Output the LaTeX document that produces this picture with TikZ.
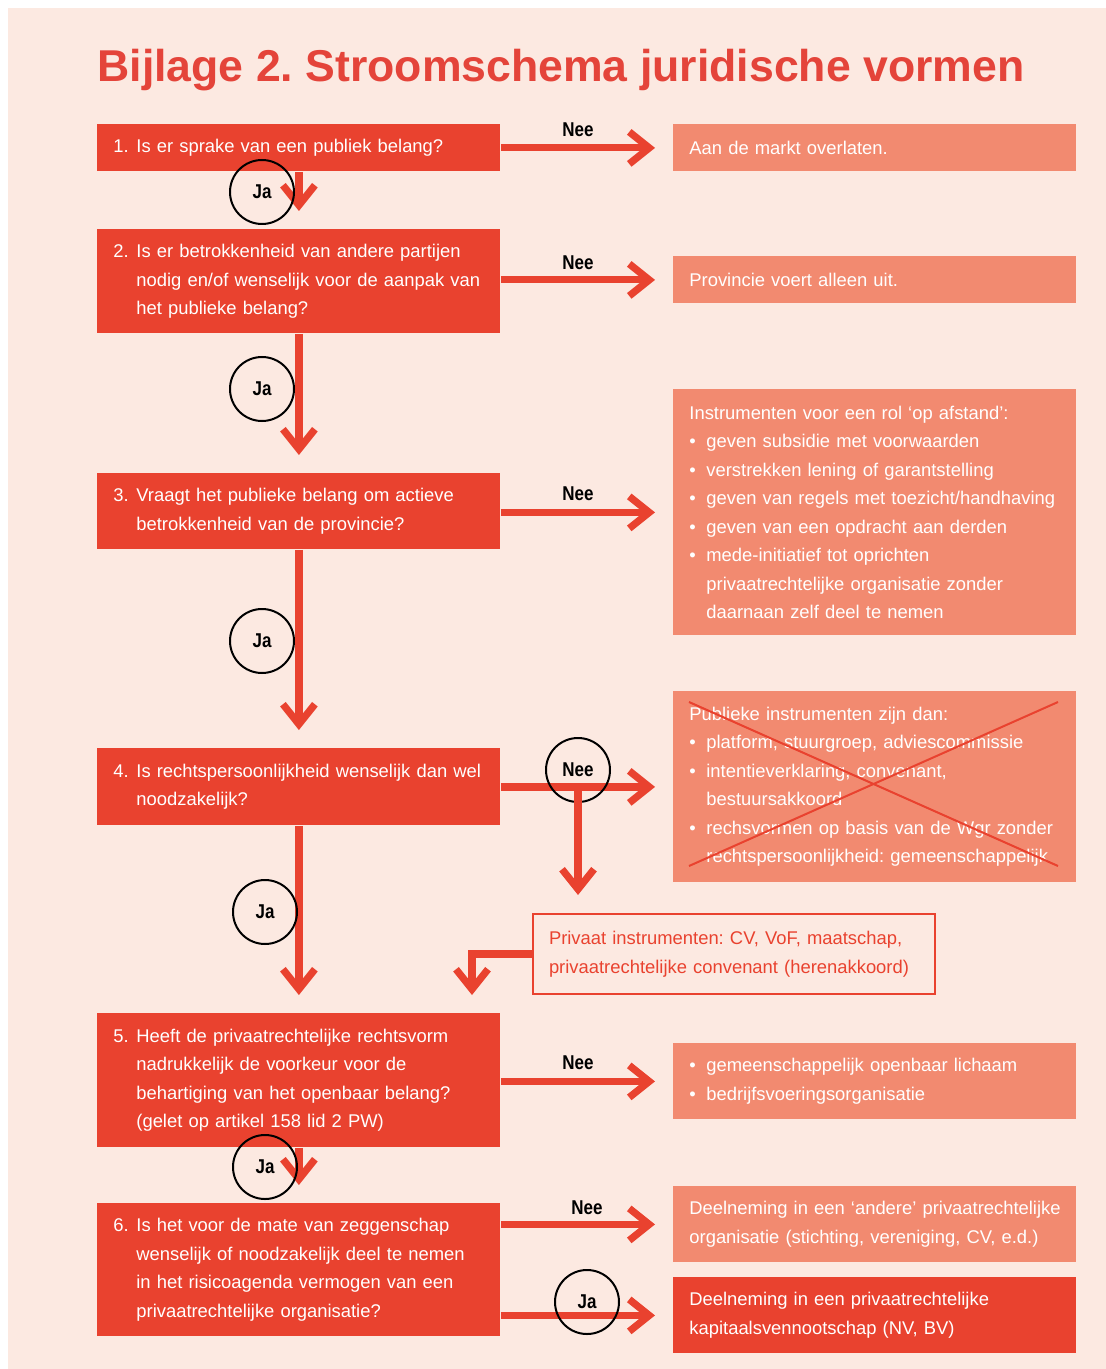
\documentclass[tikz,border=0pt]{standalone}
\usepackage{fontspec}
\setmainfont{Liberation Sans}
\newfontfamily\condfont{Liberation Sans}[FakeStretch=0.85]
\usetikzlibrary{arrows.meta}

\definecolor{pagebg}{HTML}{FCE9E1}
\definecolor{qred}{HTML}{E9422F}
\definecolor{salmon}{HTML}{F28A70}
\definecolor{titlered}{HTML}{E4443A}

\newcommand{\qnum}[1]{\makebox[11.5pt][l]{#1}}
\newcommand{\qind}{\hspace*{11.5pt}}
\newcommand{\bul}{\makebox[8.5pt][l]{\textbullet}}
\newcommand{\bind}{\hspace*{8.5pt}}
\frenchspacing

\begin{document}
\begin{tikzpicture}[x=0.5pt,y=-0.5pt,
		q_style/.style={rectangle,fill=qred,text=white,anchor=north west,inner xsep=8pt,inner ysep=0pt,text width=185.5pt,align=left,font=\fontsize{9.2}{14.25}\selectfont},
		a_style/.style={q_style,fill=salmon},
		p_style/.style={q_style,fill=pagebg,draw=qred,line width=1pt,text=qred,text width=185pt},
		ring_style/.style={circle,draw=black,line width=1pt,minimum size=32pt,inner sep=0pt,font=\condfont\bfseries\fontsize{10}{12}\selectfont},
		label_style/.style={inner sep=0pt,font=\condfont\bfseries\fontsize{10}{12}\selectfont},
		arrow_style/.style={draw=qred,line width=3.6pt,-{Straight Barb[length=10pt,width=16pt]},shorten >=9pt}]

		\useasboundingbox (0,0) rectangle (1106,1369);
		\fill[white] (0,0) rectangle (1106,1369);
		\fill[pagebg] (8,8) rectangle (1106,1369);

		\node[anchor=base west,inner sep=0pt,text=titlered,font=\bfseries\fontsize{22.3}{26}\selectfont] (title) at (97,82) {Bijlage 2. Stroomschema juridische vormen};

		% vragen
		\node[q_style,minimum height=23.5pt] (q1) at (97,124) {\qnum{1.}Is er sprake van een publiek belang?};
		\node[q_style,minimum height=52pt] (q2) at (97,229) {\qnum{2.}Is er betrokkenheid van andere partijen\\\qind nodig en/of wenselijk voor de aanpak van\\\qind het publieke belang?};
		\node[q_style,minimum height=38pt] (q3) at (97,473) {\qnum{3.}Vraagt het publieke belang om actieve\\\qind betrokkenheid van de provincie?};
		\node[q_style,minimum height=38.5pt] (q4) at (97,748) {\qnum{4.}Is rechtspersoonlijkheid wenselijk dan wel\\\qind noodzakelijk?};
		\node[q_style,minimum height=67pt] (q5) at (97,1013) {\qnum{5.}Heeft de privaatrechtelijke rechtsvorm\\\qind nadrukkelijk de voorkeur voor de\\\qind behartiging van het openbaar belang?\\\qind (gelet op artikel 158 lid 2 PW)};
		\node[q_style,minimum height=66.5pt] (q6) at (97,1203) {\qnum{6.}Is het voor de mate van zeggenschap\\\qind wenselijk of noodzakelijk deel te nemen\\\qind in het risicoagenda vermogen van een\\\qind privaatrechtelijke organisatie?};

		% uitkomsten
		\node[a_style,minimum height=23.5pt] (a1) at (673,124) {Aan de markt overlaten.};
		\node[a_style,minimum height=23.5pt] (a2) at (673,256) {Provincie voert alleen uit.};
		\node[a_style,minimum height=123pt] (a3) at (673,389) {Instrumenten voor een rol `op afstand':\\\bul geven subsidie met voorwaarden\\\bul verstrekken lening of garantstelling\\\bul geven van regels met toezicht/handhaving\\\bul geven van een opdracht aan derden\\\bul mede-initiatief tot oprichten\\\bind privaatrechtelijke organisatie zonder\\\bind daarnaan zelf deel te nemen};
		\node[a_style,minimum height=95.5pt] (a4) at (673,691) {Publieke instrumenten zijn dan:\\\bul platform, stuurgroep, adviescommissie\\\bul intentieverklaring, convenant,\\\bind bestuursakkoord\\\bul rechsvormen op basis van de Wgr zonder\\\bind rechtspersoonlijkheid: gemeenschappelijk};
		\node[a_style,minimum height=38pt] (a5) at (673,1043) {\bul gemeenschappelijk openbaar lichaam\\\bul bedrijfsvoeringsorganisatie};
		\node[a_style,minimum height=38pt] (a6) at (673,1186) {\mbox{Deelneming in een `andere' privaatrechtelijke}\\organisatie (stichting, vereniging, CV, e.d.)};
		\node[q_style,minimum height=38pt] (a7) at (673,1277) {Deelneming in een privaatrechtelijke\\kapitaalsvennootschap (NV, BV)};
		\node[p_style,minimum height=40pt] (pb) at (532,913) {Privaat instrumenten: CV, VoF, maatschap,\\privaatrechtelijke convenant (herenakkoord)};

		% doorgestreept
		\draw[qred,line width=1pt] (689,702) -- (1058,866) (1058,702) -- (689,866);

		% pijlen
		\draw[arrow_style] (q1) -- (q2);
		\draw[arrow_style] (q2) -- (q3);
		\draw[arrow_style] (q3) -- (q4);
		\draw[arrow_style] (q4) -- (q5);
		\draw[arrow_style] (q5) -- (q6);
		\draw[arrow_style] (q1.east |- a1.west) -- (a1.west);
		\draw[arrow_style] (q2.east |- a2.west) -- (a2.west);
		\draw[arrow_style] (q3.east |- a3.west) -- (a3.west);
		\draw[arrow_style] (q4.east |- a4.west) -- (a4.west);
		\draw[arrow_style] (q5.east |- a5.west) -- (a5.west);
		\draw[arrow_style] (q6.east |- a6.west) -- (a6.west);
		\draw[arrow_style] (q6.east |- a7.west) -- (a7.west);

		\node[ring_style] (nee4) at (578,770) {Nee};
		\draw[arrow_style] (q4.east -| nee4) -- (pb.north -| nee4);
		\coordinate (pbin) at (472,1013);
		\draw[arrow_style] (pb.west) -| (pbin);

		% ja / nee
		\node[ring_style] (ja1) at (262,192) {Ja};
		\node[ring_style] (ja2) at (262,389) {Ja};
		\node[ring_style] (ja3) at (262,641) {Ja};
		\node[ring_style] (ja4) at (265,912) {Ja};
		\node[ring_style] (ja5) at (265,1167) {Ja};
		\node[ring_style] (ja6) at (587,1302) {Ja};
		\node[label_style] (nee1) at (578,130) {Nee};
		\node[label_style] (nee2) at (578,263) {Nee};
		\node[label_style] (nee3) at (578,494) {Nee};
		\node[label_style] (nee5) at (578,1063) {Nee};
		\node[label_style] (nee6) at (587,1208) {Nee};

		\end{tikzpicture}
\end{document}
